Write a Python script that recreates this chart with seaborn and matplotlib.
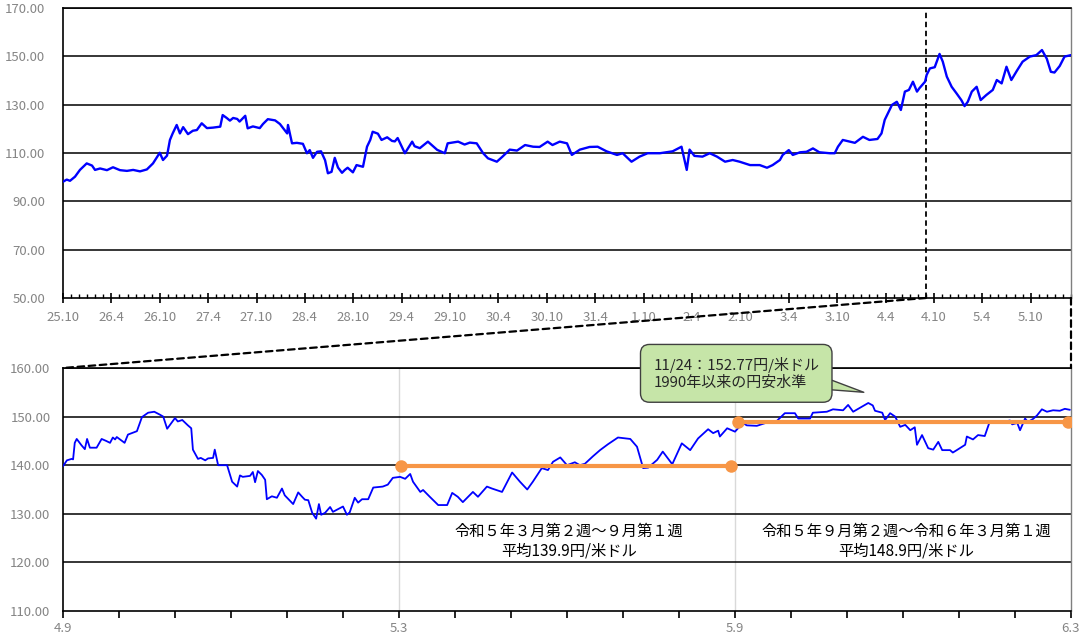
import matplotlib
matplotlib.use("Agg")
import matplotlib.pyplot as plt
import pandas as pd
import seaborn as sns
from matplotlib.patches import ConnectionPatch
from matplotlib.ticker import FixedLocator, NullFormatter

sns.set_theme(style="white")
plt.rcParams["font.family"] = ["Noto Sans CJK JP", "DejaVu Sans"]

# ---- 上段: 平成25年10月以降の円/米ドル (横軸は平成25年10月からの月数) ----
long_month = [
    0.0, 0.46, 0.87, 1.49, 2.1, 2.94, 3.6, 3.97, 4.6, 5.45, 6.2, 7.07, 7.93, 8.7,
    9.55, 10.4, 11.16, 12.0, 12.4, 12.9, 13.26, 13.6, 14.1, 14.5, 14.9, 15.5, 16.1,
    16.6, 17.2, 17.85, 18.6, 19.5, 19.8, 20.3, 20.7, 21.1, 21.6, 21.9, 22.6, 22.9,
    23.55, 24.4, 24.8, 25.4, 26.3, 26.9, 27.8, 27.9, 28.4, 29.0, 29.75, 30.25, 30.6,
    31.0, 31.5, 32.0, 32.5, 32.85, 33.3, 33.7, 34.1, 34.6, 34.95, 35.3, 35.95, 36.4,
    37.2, 37.7, 38.1, 38.4, 39.05, 39.5, 40.2, 40.8, 41.15, 41.5, 42.4, 43.3, 43.6,
    44.25, 45.25, 46.4, 47.35, 47.7, 49.0, 49.8, 50.45, 51.3, 52.1, 52.7, 53.8, 54.5,
    55.4, 56.3, 57.3, 58.3, 59.1, 60.1, 60.7, 61.6, 62.5, 63.1, 64.1, 65.3, 66.3,
    67.4, 68.7, 69.4, 70.5, 71.5, 72.5, 74.0, 75.6, 76.7, 77.35, 77.7, 78.3, 79.3,
    80.2, 81.1, 82.1, 83.05, 83.9, 85.2, 86.4, 87.3, 88.0, 88.9, 89.25, 90.0, 90.5,
    91.4, 92.2, 93.0, 93.8, 95.1, 95.7, 96.1, 96.7, 97.55, 98.2, 99.2, 100.0, 101.0,
    101.5, 101.9, 102.8, 103.4, 103.9, 104.4, 104.9, 105.4, 105.9, 106.2, 106.9,
    107.1, 107.5, 108.1, 108.7, 109.1, 109.6, 110.2, 110.8, 111.4, 111.8, 112.2,
    112.7, 113.3, 113.8, 114.5, 115.3, 115.8, 116.4, 117.0, 117.6, 118.3, 119.0,
    119.9, 120.7, 121.4, 122.0, 122.5, 122.95, 123.6, 124.2, 125.0,
]
long_rate = [
    98.1, 99.0, 98.5, 100.2, 103.0, 105.7, 104.8, 103.0, 103.6, 102.9, 104.1, 102.9,
    102.6, 103.0, 102.4, 103.2, 105.7, 110.1, 107.1, 108.9, 115.4, 118.1, 121.6,
    118.1, 120.7, 117.8, 119.2, 119.5, 122.3, 120.3, 120.5, 120.9, 125.7, 124.5,
    123.4, 124.5, 124.1, 123.0, 125.4, 120.2, 121.0, 120.3, 122.0, 124.0, 123.5,
    122.0, 118.1, 121.6, 114.0, 114.2, 113.8, 109.9, 111.2, 108.0, 110.5, 110.7,
    107.0, 101.6, 102.2, 108.0, 104.0, 101.8, 103.0, 103.9, 102.0, 105.0, 104.3,
    112.6, 115.4, 118.8, 118.0, 115.4, 116.5, 115.0, 114.8, 116.2, 109.9, 114.7,
    112.8, 112.0, 114.7, 111.3, 109.9, 114.0, 114.7, 113.5, 114.3, 114.0, 109.9,
    107.8, 106.4, 108.5, 111.4, 111.0, 113.3, 112.6, 112.5, 114.7, 113.3, 114.7,
    114.0, 109.2, 111.4, 112.5, 112.6, 110.7, 109.2, 109.9, 106.4, 108.5, 109.9,
    109.9, 110.7, 112.6, 103.0, 111.4, 108.8, 108.5, 109.9, 108.5, 106.4, 107.1,
    106.4, 105.0, 105.0, 103.9, 105.0, 107.1, 109.2, 111.2, 109.2, 110.3, 110.5,
    111.9, 110.3, 109.9, 109.9, 112.6, 115.4, 114.7, 114.2, 116.7, 115.4, 115.8,
    118.1, 123.7, 129.9, 131.2, 127.8, 135.4, 136.1, 139.5, 135.4, 136.8, 139.5,
    142.3, 145.0, 145.5, 151.0, 147.8, 141.6, 137.4, 134.7, 131.9, 129.4, 131.2,
    135.4, 137.4, 131.9, 134.0, 136.1, 140.2, 138.8, 145.7, 140.2, 144.1, 147.8,
    149.9, 150.5, 152.6, 149.0, 143.6, 143.3, 146.0, 149.9, 150.5,
]
long_tick_labels = [
    "25.10", "26.4", "26.10", "27.4", "27.10", "28.4", "28.10", "29.4", "29.10",
    "30.4", "30.10", "31.4", "1.10", "2.4", "2.10", "3.4", "3.10", "4.4", "4.10",
    "5.4", "5.10",
]
zoom_start_month = 107  # 令和4年9月

# ---- 下段: 令和4年9月以降の拡大 (横軸は令和4年9月からの月数) ----
recent_month = [
    0.0, 0.07, 0.155, 0.18, 0.21, 0.245, 0.33, 0.39, 0.43, 0.48, 0.6, 0.69, 0.77,
    0.84, 0.89, 0.93, 0.96, 1.1, 1.16, 1.32, 1.41, 1.52, 1.63, 1.73, 1.79, 1.86,
    2.0, 2.05, 2.13, 2.23, 2.29, 2.32, 2.41, 2.46, 2.54, 2.59, 2.68, 2.71, 2.77,
    2.93, 3.02, 3.11, 3.16, 3.21, 3.34, 3.39, 3.43, 3.48, 3.55, 3.61, 3.64, 3.73,
    3.82, 3.91, 3.96, 4.11, 4.2, 4.27, 4.32, 4.38, 4.45, 4.52, 4.57, 4.61, 4.68,
    4.77, 4.82, 5.0, 5.07, 5.12, 5.21, 5.27, 5.34, 5.45, 5.54, 5.71, 5.8, 5.89,
    6.02, 6.11, 6.2, 6.25, 6.38, 6.43, 6.55, 6.7, 6.86, 6.95, 7.05, 7.14, 7.32,
    7.41, 7.57, 7.66, 7.84, 8.02, 8.16, 8.29, 8.39, 8.55, 8.66, 8.75, 8.88, 9.0,
    9.14, 9.23, 9.32, 9.46, 9.59, 9.73, 9.91, 10.13, 10.25, 10.36, 10.45, 10.61,
    10.71, 10.88, 11.05, 11.2, 11.34, 11.52, 11.61, 11.7, 11.73, 11.86, 12.0,
    12.14, 12.21, 12.39, 12.63, 12.71, 12.89, 13.07, 13.13, 13.34, 13.39, 13.64,
    13.75, 13.93, 14.02, 14.11, 14.23, 14.38, 14.46, 14.5, 14.63, 14.68, 14.77,
    14.86, 14.95, 15.04, 15.13, 15.21, 15.25, 15.34, 15.45, 15.54, 15.63, 15.7,
    15.84, 15.89, 15.96, 16.11, 16.14, 16.25, 16.34, 16.46, 16.55, 16.68, 16.79,
    16.91, 16.95, 17.04, 17.09, 17.18, 17.23, 17.32, 17.39, 17.48, 17.57, 17.68,
    17.8, 17.89, 17.98,
]
recent_rate = [
    139.8, 141.0, 141.3, 141.2, 144.6, 145.4, 144.1, 143.3, 145.4, 143.6, 143.6,
    145.4, 145.0, 144.6, 145.7, 145.3, 145.8, 144.6, 146.3, 147.0, 149.9, 150.8,
    151.0, 150.4, 150.0, 147.5, 149.7, 149.0, 149.3, 148.2, 147.6, 143.2, 141.3,
    141.5, 141.0, 141.4, 141.5, 143.2, 140.0, 140.0, 136.6, 135.6, 137.9, 137.6,
    137.8, 138.6, 136.5, 138.8, 138.0, 137.0, 133.0, 133.6, 133.3, 135.2, 133.8,
    132.0, 134.4, 133.5, 132.9, 132.8, 130.2, 129.0, 132.0, 129.8, 130.2, 131.4,
    130.4, 131.5, 129.8, 130.3, 133.3, 132.3, 133.0, 133.0, 135.4, 135.6, 136.0,
    137.4, 137.6, 137.2, 138.2, 136.6, 134.5, 134.9, 133.5, 131.8, 131.8, 134.3,
    133.5, 132.4, 134.5, 133.5, 135.6, 135.2, 134.5, 138.5, 136.6, 135.0, 136.6,
    139.4, 139.0, 140.7, 141.6, 140.0, 140.6, 140.0, 140.3, 141.8, 143.1, 144.3,
    145.7, 145.4, 143.8, 139.4, 139.5, 141.1, 142.8, 140.2, 144.5, 143.1, 145.5,
    147.4, 146.6, 147.1, 145.9, 147.6, 146.9, 148.7, 148.2, 148.1, 149.0, 148.7,
    150.7, 150.7, 149.6, 149.6, 150.8, 151.0, 151.5, 151.3, 152.4, 151.0, 151.8,
    152.8, 152.3, 151.2, 150.8, 149.3, 150.7, 150.0, 147.9, 148.3, 147.2, 147.8,
    144.2, 146.2, 143.5, 143.2, 144.8, 143.1, 143.1, 142.6, 143.1, 144.2, 145.9,
    145.3, 146.2, 146.0, 149.0, 149.1, 148.9, 149.2, 148.4, 148.7, 147.2, 149.6,
    148.9, 149.5, 150.2, 151.5, 151.0, 151.3, 151.2, 151.6, 151.4,
]
recent_tick_labels = ["4.9", "5.3", "5.9", "6.3"]

# 期間平均 (開始・終了月と平均値)
avg_start = [6.03, 12.06]
avg_end = [11.93, 17.95]
avg_value = [139.9, 148.9]
avg_captions = [
    "令和５年３月第２週～９月第１週\n平均139.9円/米ドル",
    "令和５年９月第２週～令和６年３月第１週\n平均148.9円/米ドル",
]
peak_caption = "11/24：152.77円/米ドル\n1990年以来の円安水準"
peak_month = 14.3
peak_label_level = 155.0

BLUE = "#0000FF"
ORANGE = "#F79646"
GREY_TXT = "#858585"
BUBBLE = "#C6E5A8"

long_df = pd.DataFrame({"month": long_month, "rate": long_rate})
recent_df = pd.DataFrame({"month": recent_month, "rate": recent_rate})

fig = plt.figure(figsize=(10.88, 6.41), dpi=100)
ax_top = fig.add_axes([63 / 1088, 1 - 298 / 641, 1008 / 1088, 290 / 641])
ax_bot = fig.add_axes([63 / 1088, 1 - 611 / 641, 1008 / 1088, 243 / 641])

# ---------- 上段 ----------
sns.lineplot(data=long_df, x="month", y="rate", ax=ax_top, color=BLUE,
             linewidth=1.7, estimator=None, sort=False, zorder=4)
ax_top.set_xlim(0, 125)
ax_top.set_ylim(50, 170)
top_y = list(range(50, 171, 20))
ax_top.set_yticks(top_y)
ax_top.set_yticklabels([f"{v:.2f}" for v in top_y])
ax_top.xaxis.set_major_locator(FixedLocator([6 * i for i in range(len(long_tick_labels))]))
ax_top.set_xticklabels(long_tick_labels)
ax_top.xaxis.set_minor_locator(FixedLocator(list(range(0, 126))))
ax_top.xaxis.set_minor_formatter(NullFormatter())
ax_top.tick_params(axis="x", which="major", direction="inout", length=7, width=1.2,
                   color="black", labelsize=9.5, labelcolor=GREY_TXT, pad=6, bottom=True)
ax_top.tick_params(axis="x", which="minor", direction="in", length=3, width=1,
                   color="black", bottom=True)
ax_top.tick_params(axis="y", length=0, labelsize=9.5, labelcolor=GREY_TXT, pad=13)
for v in top_y[1:]:
    ax_top.axhline(v, color="black", lw=1.1, zorder=1)
ax_top.axvline(zoom_start_month, ymin=0, ymax=0.985, color="black", lw=1.3,
               linestyle=(0, (3, 2)), zorder=3)

# ---------- 下段 ----------
sns.lineplot(data=recent_df, x="month", y="rate", ax=ax_bot, color=BLUE,
             linewidth=1.3, estimator=None, sort=False, zorder=4)
ax_bot.set_xlim(0, 18)
ax_bot.set_ylim(110, 160)
bot_y = list(range(110, 161, 10))
ax_bot.set_yticks(bot_y)
ax_bot.set_yticklabels([f"{v:.2f}" for v in bot_y])
ax_bot.set_xticks(list(range(0, 19)))
ax_bot.set_xticklabels([recent_tick_labels[i // 6] if i % 6 == 0 else "" for i in range(19)])
ax_bot.tick_params(axis="x", direction="out", length=5, width=1.2, color="black",
                   labelsize=9.5, labelcolor=GREY_TXT, pad=3, bottom=True)
ax_bot.tick_params(axis="y", length=0, labelsize=9.5, labelcolor=GREY_TXT, pad=9)
for v in bot_y[1:]:
    ax_bot.axhline(v, color="black", lw=1.1, zorder=1)
for m in (6, 12):
    ax_bot.axvline(m, color="#D9D9D9", lw=1.0, zorder=0.5)

for s, e, v in zip(avg_start, avg_end, avg_value):
    seg = pd.DataFrame({"month": [s, e], "rate": [v, v]})
    sns.lineplot(data=seg, x="month", y="rate", ax=ax_bot, color=ORANGE, linewidth=3,
                 marker="o", markersize=9, markeredgewidth=0, estimator=None, zorder=5)

for s, e, cap in zip(avg_start, avg_end, avg_captions):
    ax_bot.text((s + e) / 2 + 0.05, 124.4, cap, ha="center", va="center",
                fontsize=11, color="black", linespacing=1.25, zorder=6)

ax_bot.annotate(
    peak_caption, xy=(peak_month, peak_label_level), xycoords="data",
    xytext=(10.54, 158.9), textcoords="data", ha="left", va="center",
    fontsize=10.8, linespacing=1.2, zorder=7,
    bbox=dict(boxstyle="round,pad=0.85,rounding_size=0.6", fc=BUBBLE, ec="#404040", lw=1),
    arrowprops=dict(arrowstyle="wedge,tail_width=1.1,shrink_factor=0.5",
                    fc=BUBBLE, ec="#404040", lw=1, relpos=(0.93, 0.3),
                    patchA=None, shrinkA=0, shrinkB=0),
)

for ax in (ax_top, ax_bot):
    ax.set_xlabel("")
    ax.set_ylabel("")
    for side in ("left", "bottom", "top"):
        ax.spines[side].set_color("black")
        ax.spines[side].set_linewidth(1.2)
    ax.spines["right"].set_color("#7F7F7F")
    ax.spines["right"].set_linewidth(1.0)

# 拡大範囲を示す破線
for a_pt, b_pt in (((zoom_start_month, 50), (0, 160)), ((125, 50), (18, 160))):
    con = ConnectionPatch(xyA=a_pt, coordsA=ax_top.transData, xyB=b_pt,
                          coordsB=ax_bot.transData, color="black", lw=1.6,
                          linestyle=(0, (3, 2)))
    fig.add_artist(con)

fig.savefig("out.png", dpi=100)
